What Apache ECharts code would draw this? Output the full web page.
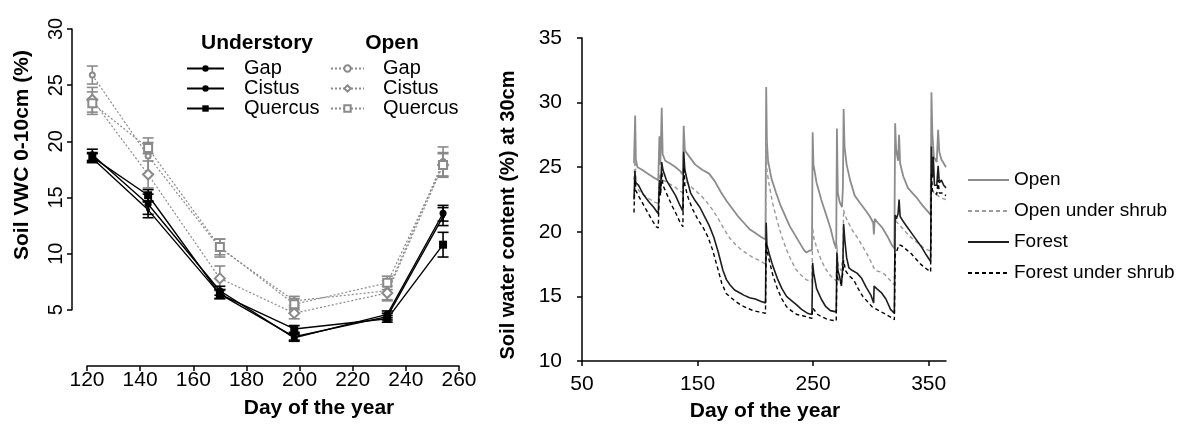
<!DOCTYPE html>
<html>
<head>
<meta charset="utf-8">
<script src="https://cdn.jsdelivr.net/npm/echarts@6/dist/echarts.min.js"></script>
<style>
html,body{margin:0;padding:0;background:#fff;}
#c{width:1197px;height:429px;}
</style>
</head>
<body>
<div id="c"></div>
<script>
// ---------- Left panel data ----------
const days = [122, 143, 170, 198, 233, 254];
const underGap     = [18.8, 14.4, 6.7, 2.5, 4.6, 13.6];
const underCistus  = [18.5, 13.9, 6.4, 2.6, 4.4, 13.3];
const underQuercus = [18.6, 15.2, 6.4, 3.3, 4.2, 10.8];
const openGap      = [25.9, 18.7, 10.5, 5.8, 6.7, 18.2];
const openCistus   = [23.7, 17.05, 7.8, 4.7, 6.5, 17.9];
const openQuercus  = [23.4, 19.4, 10.6, 5.5, 7.4, 17.9];
const seUnderGap     = [0.5, 0.9, 0.4, 0.3, 0.3, 0.7];
const seUnderCistus  = [0.4, 0.7, 0.4, 0.3, 0.3, 0.8];
const seUnderQuercus = [0.4, 0.5, 0.4, 0.3, 0.3, 1.1];
const seOpenGap      = [0.8, 1.6, 0.8, 0.4, 0.9, 1.3];
const seOpenCistus   = [1.1, 1.2, 1.1, 0.5, 0.6, 1.0];
const seOpenQuercus  = [1.0, 0.5, 0.7, 0.5, 0.6, 1.1];
const leftYTicks = [5, 10, 15, 20, 25, 30];
const leftXTicks = [120, 140, 160, 180, 200, 220, 240, 260];

// ---------- Right panel data ([day, %]) ----------
const openSeries = [[95,25.3],[96,29.0],[96.6,25.6],[98,25.0],[102,24.8],[107,24.5],[112,24.2],[116,24.0],[117,27.4],[117.8,25.2],[119,29.6],[119.8,26.0],[122,25.5],[126,25.3],[131,25.0],[135,24.7],[137.3,24.4],[138,28.2],[139,26.3],[143,25.8],[148,25.2],[154,24.8],[160,24.5],[165,23.9],[170,23.1],[175,22.4],[180,21.8],[185,21.2],[190,20.7],[195,20.2],[200,19.9],[205,19.6],[208.8,19.4],[209.4,31.2],[210,27.0],[211,25.5],[214,24.1],[218,23.0],[222,22.0],[226,21.2],[230,20.4],[234,19.8],[238,19.2],[242,18.6],[244,18.4],[246,18.5],[249,18.6],[249.6,27.7],[250.3,25.2],[253,23.8],[257,22.5],[261,21.4],[265,20.3],[268,19.2],[270,18.7],[270.6,28.0],[271.4,23.0],[273,22.3],[275,21.9],[275.8,23.5],[276.4,29.5],[277.2,26.6],[279,25.2],[282,24.0],[286,22.8],[290,22.3],[295,21.7],[299,21.2],[302,20.7],[302.6,19.8],[303.3,21.0],[306,20.7],[310,20.3],[314,19.7],[318,19.0],[320.3,18.7],[321,28.4],[321.8,26.4],[323.5,25.5],[324.4,27.5],[325.3,25.3],[328,24.3],[332,23.4],[336,23.0],[340,22.6],[345,22.0],[349,21.6],[351.7,21.3],[352.4,30.8],[353.2,27.6],[354.5,25.8],[357,25.4],[358.2,27.9],[359.2,26.2],[361,25.6],[363,25.3],[365,25.0]];
const openShrubSeries = [[95,24.0],[96,25.8],[96.8,23.6],[99,23.2],[104,22.8],[109,22.5],[113,22.3],[116,22.2],[117,24.5],[118,23.5],[119,25.2],[120,24.0],[124,23.8],[130,23.5],[134,23.2],[137.3,23.0],[138,26.0],[139,24.0],[143,23.6],[148,23.2],[153,22.8],[158,22.3],[163,21.7],[168,21.0],[173,20.2],[178,19.5],[183,19.0],[188,18.6],[193,18.3],[198,18.0],[203,17.8],[208.8,17.5],[209.4,27.0],[210,24.8],[212,23.6],[215,22.2],[219,20.8],[223,19.6],[227,18.6],[231,17.8],[235,17.1],[239,16.7],[244,16.3],[249,16.1],[249.6,20.3],[250.5,19.6],[253,18.8],[257,17.8],[261,17.1],[265,16.6],[270,16.2],[270.6,19.0],[271.5,17.5],[274,17.0],[275.8,18.0],[276.4,21.7],[277.5,21.3],[280,20.8],[284,20.1],[288,19.6],[292,19.0],[296,18.4],[300,17.7],[302.6,17.2],[304,17.0],[308,16.9],[312,16.7],[316,16.3],[320.3,15.9],[321,21.0],[322,20.8],[325,20.5],[329,20.1],[333,19.7],[337,19.4],[341,19.1],[345,18.8],[349,18.6],[351.7,18.5],[352.4,24.5],[353.5,23.2],[355,22.9],[358,22.8],[361,22.6],[365,22.5]];
const forestSeries = [[95,22.5],[95.8,24.7],[96.5,23.8],[99,23.6],[103,22.9],[108,22.3],[112,21.9],[116,21.4],[117,24.0],[118,23.2],[119,25.4],[120,24.8],[123,24.0],[127,23.4],[131,22.8],[135,22.0],[137.3,21.6],[138,26.2],[139,24.8],[141,24.0],[144,23.0],[148,22.4],[152,21.9],[156,21.2],[160,20.5],[164,19.6],[168,18.4],[172,17.0],[175,16.3],[178,15.9],[182,15.5],[186,15.3],[190,15.1],[195,14.9],[200,14.8],[205,14.6],[208.8,14.5],[209.4,20.7],[210,19.0],[212,18.3],[215,17.4],[219,16.4],[223,15.6],[227,15.0],[231,14.7],[235,14.4],[240,14.0],[245,13.7],[249,13.6],[249.6,17.6],[250.5,16.8],[253,15.6],[257,14.8],[261,14.2],[265,13.9],[270,13.8],[270.6,18.4],[271.5,17.0],[273,16.5],[274.5,15.8],[275.8,17.5],[276.4,20.6],[277.5,19.3],[279,18.0],[281,17.2],[284,17.0],[288,16.8],[292,16.4],[296,15.7],[300,15.1],[302.4,14.5],[302.8,15.8],[305,15.6],[309,15.3],[313,14.8],[317,14.0],[320.3,13.7],[321,21.3],[322,21.0],[323.5,21.4],[324.4,22.5],[325.3,21.2],[328,20.8],[332,20.3],[336,19.8],[340,19.3],[344,18.8],[348,18.2],[351.7,17.7],[352.4,26.6],[353.2,24.2],[354,25.8],[355,23.6],[357,23.6],[358.2,25.1],[359.2,23.8],[361,24.0],[363,23.6],[365,23.4]];
const forestShrubSeries = [[95,21.5],[95.8,24.0],[96.5,23.2],[100,22.6],[105,21.8],[110,21.0],[114,20.4],[116,20.3],[117,23.5],[118,22.8],[119,24.6],[120,23.6],[124,22.8],[128,22.0],[132,21.3],[135,20.7],[137.3,20.4],[138,25.0],[139,23.6],[142,22.6],[146,21.7],[150,21.0],[155,20.3],[159,19.6],[163,18.6],[167,17.3],[171,16.0],[175,15.2],[179,14.9],[183,14.6],[188,14.3],[193,14.1],[198,13.9],[203,13.8],[208.8,13.7],[209.4,19.2],[210,18.6],[212,17.8],[215,16.7],[219,15.6],[223,14.8],[227,14.2],[231,13.9],[236,13.6],[241,13.5],[245,13.4],[249,13.3],[249.6,14.1],[250.5,14.0],[254,13.6],[258,13.4],[263,13.2],[270,13.1],[270.6,17.0],[271.5,16.3],[274,16.0],[275.8,16.8],[276.4,17.8],[278,17.0],[281,16.6],[285,16.3],[289,15.6],[293,15.0],[297,14.6],[301,14.2],[305,14.0],[309,13.8],[313,13.6],[317,13.4],[320.3,13.2],[321,18.2],[322,18.1],[324.4,19.0],[327,18.9],[331,18.6],[335,18.3],[339,17.9],[343,17.5],[347,17.2],[351.7,16.9],[352.4,24.5],[353.2,23.2],[355,23.0],[357,22.9],[358.2,24.0],[359.2,23.0],[362,23.0],[365,22.8]];
const rightXTicks = [50, 150, 250, 350];

// ---------- helpers ----------
const FONT = '"Liberation Sans", Arial, sans-serif';
const GRAY = '#8a8a8a';
function pairs(v) { return days.map((d, i) => [d, v[i]]); }
function errs(v, se) { return days.map((d, i) => [d, v[i] - se[i], v[i] + se[i]]); }
function errSeries(v, se, color) {
  return {
    type: 'custom', xAxisIndex: 0, yAxisIndex: 0, z: 3,
    data: errs(v, se), encode: { x: 0, y: [1, 2] },
    renderItem: function (params, api) {
      const x = api.value(0);
      const a = api.coord([x, api.value(1)]);
      const b = api.coord([x, api.value(2)]);
      const w = 5.5;
      const st = { stroke: color, lineWidth: 1.6 };
      return { type: 'group', children: [
        { type: 'line', shape: { x1: a[0], y1: a[1], x2: b[0], y2: b[1] }, style: st },
        { type: 'line', shape: { x1: a[0] - w, y1: a[1], x2: a[0] + w, y2: a[1] }, style: st },
        { type: 'line', shape: { x1: b[0] - w, y1: b[1], x2: b[0] + w, y2: b[1] }, style: st }
      ]};
    }
  };
}
function underLine(name, v, symbol, size) {
  return { name: name, type: 'line', xAxisIndex: 0, yAxisIndex: 0, z: 4, data: pairs(v),
    symbol: symbol, symbolSize: size, color: '#000',
    lineStyle: { color: '#000', width: 1.4 }, itemStyle: { color: '#000' } };
}
function openLine(name, v, symbol, size) {
  return { name: name, type: 'line', xAxisIndex: 0, yAxisIndex: 0, z: 4, data: pairs(v),
    symbol: symbol, symbolSize: size, color: GRAY,
    lineStyle: { color: GRAY, width: 1.2, type: [2, 2] },
    itemStyle: { color: GRAY, borderColor: GRAY, borderWidth: 1.2 } };
}
function rightLine(name, d, color, width, type) {
  return { name: name, type: 'line', xAxisIndex: 2, yAxisIndex: 2, data: d, symbol: 'none',
    color: color, lineStyle: { color: color, width: width, type: type } };
}

const axisCommon = {
  axisLine: { show: true, lineStyle: { color: '#000', width: 1.5 } },
  axisTick: { show: true, inside: false, length: 5, lineStyle: { color: '#000', width: 1.5 } },
  splitLine: { show: false }
};

const chart = echarts.init(document.getElementById('c'), null, { renderer: 'canvas' });
chart.setOption({
  animation: false,
  backgroundColor: '#fff',
  textStyle: { fontFamily: FONT },
  grid: [
    { left: 87, top: 29, width: 372, height: 337 },   // left data grid
    { left: 72, top: 29, width: 1, height: 280.8 },   // left y-axis (5–30) only
    { left: 582, top: 38, width: 364, height: 323 }   // right grid
  ],
  xAxis: [
    Object.assign({}, axisCommon, { gridIndex: 0, type: 'value', min: 120, max: 260, interval: 20,
      axisLabel: { fontSize: 21, color: '#000', margin: 4, fontFamily: FONT } }),
    { gridIndex: 1, type: 'value', min: 0, max: 1, show: false },
    Object.assign({}, axisCommon, { gridIndex: 2, type: 'value', min: 50, max: 365, interval: 100,
      axisTick: Object.assign({}, axisCommon.axisTick, { customValues: rightXTicks }),
      axisLabel: { fontSize: 21, color: '#000', margin: 13, fontFamily: FONT, customValues: rightXTicks } })
  ],
  yAxis: [
    { gridIndex: 0, type: 'value', min: 0, max: 30, show: false },
    Object.assign({}, axisCommon, { gridIndex: 1, type: 'value', min: 5, max: 30, interval: 5,
      axisLabel: { fontSize: 20, color: '#000', rotate: 90, margin: 6, fontFamily: FONT } }),
    Object.assign({}, axisCommon, { gridIndex: 2, type: 'value', min: 10, max: 35, interval: 5,
      axisLabel: { fontSize: 21, color: '#000', margin: 20, fontFamily: FONT } })
  ],
  legend: [
    { data: ['Understory Gap', 'Understory Cistus', 'Understory Quercus'], orient: 'vertical',
      left: 186, top: 58.5, padding: 0, itemWidth: 37, itemHeight: 8, itemGap: 0, selectedMode: false,
      formatter: n => n.split(' ')[1],
      textStyle: { fontSize: 20, lineHeight: 19, color: '#000', fontFamily: FONT, padding: [0, 0, 0, 15] } },
    { data: ['Open Gap', 'Open Cistus', 'Open Quercus'], orient: 'vertical',
      left: 330, top: 58.5, padding: 0, itemWidth: 33, itemHeight: 8, itemGap: 0, selectedMode: false,
      formatter: n => n.split(' ')[1],
      textStyle: { fontSize: 20, lineHeight: 19, color: '#000', fontFamily: FONT, padding: [0, 0, 0, 14] } },
    { data: ['Open', 'Open under shrub', 'Forest', 'Forest under shrub'], orient: 'vertical',
      left: 967, top: 170, padding: 0, itemWidth: 41, itemHeight: 14, itemGap: 11, selectedMode: false,
      itemStyle: { opacity: 0 },
      textStyle: { fontSize: 19, lineHeight: 20, color: '#000', fontFamily: FONT } }
  ],
  graphic: [
    { type: 'text', x: 257, y: 43, style: { text: 'Understory', font: 'bold 21px ' + FONT, fill: '#000', align: 'center', verticalAlign: 'middle' } },
    { type: 'text', x: 392, y: 43, style: { text: 'Open', font: 'bold 21px ' + FONT, fill: '#000', align: 'center', verticalAlign: 'middle' } },
    { type: 'text', x: 22, y: 155, rotation: Math.PI / 2, style: { text: 'Soil VWC 0-10cm (%)', font: 'bold 21px ' + FONT, fill: '#000', align: 'center', verticalAlign: 'middle' } },
    { type: 'text', x: 319, y: 408, style: { text: 'Day of the year', font: 'bold 21px ' + FONT, fill: '#000', align: 'center', verticalAlign: 'middle' } },
    { type: 'text', x: 508, y: 215, rotation: Math.PI / 2, style: { text: 'Soil water content (%) at 30cm', font: 'bold 20px ' + FONT, fill: '#000', align: 'center', verticalAlign: 'middle' } },
    { type: 'text', x: 765, y: 411, style: { text: 'Day of the year', font: 'bold 21px ' + FONT, fill: '#000', align: 'center', verticalAlign: 'middle' } }
  ],
  series: [
    errSeries(openGap, seOpenGap, GRAY),
    errSeries(openCistus, seOpenCistus, GRAY),
    errSeries(openQuercus, seOpenQuercus, GRAY),
    openLine('Open Gap', openGap, 'emptyCircle', 5),
    openLine('Open Cistus', openCistus, 'emptyDiamond', 10),
    openLine('Open Quercus', openQuercus, 'emptyRect', 8),
    errSeries(underGap, seUnderGap, '#000'),
    errSeries(underCistus, seUnderCistus, '#000'),
    errSeries(underQuercus, seUnderQuercus, '#000'),
    underLine('Understory Gap', underGap, 'circle', 7),
    underLine('Understory Cistus', underCistus, 'circle', 4),
    underLine('Understory Quercus', underQuercus, 'rect', 8),
    rightLine('Open', openSeries, '#8c8c8c', 1.8, 'solid'),
    rightLine('Open under shrub', openShrubSeries, '#9a9a9a', 1.4, [4, 3]),
    rightLine('Forest', forestSeries, '#1e1e1e', 1.6, 'solid'),
    rightLine('Forest under shrub', forestShrubSeries, '#000', 1.4, [4, 3])
  ]
});
</script>
</body>
</html>
